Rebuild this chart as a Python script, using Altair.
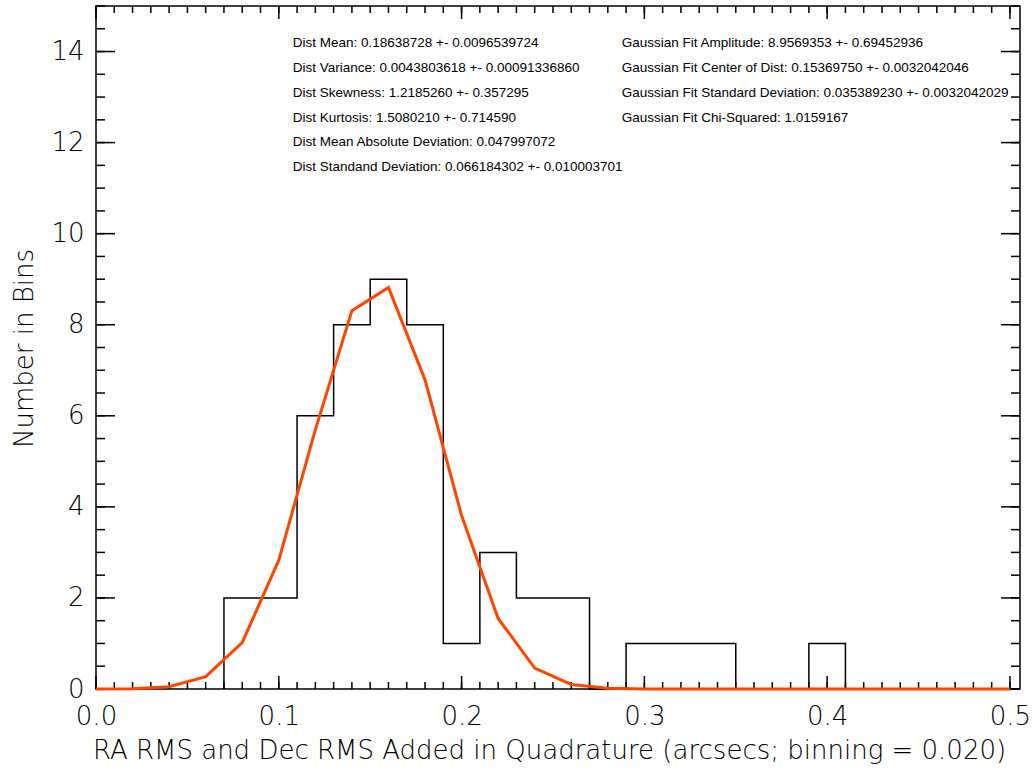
import altair as alt
import pandas as pd

# ---------------- data ----------------
bin_left = [0.07, 0.09, 0.11, 0.13, 0.15, 0.17, 0.19, 0.21, 0.23, 0.25,
            0.27, 0.29, 0.31, 0.33, 0.35, 0.37, 0.39]
bin_count = [2, 2, 6, 8, 9, 8, 1, 3, 2, 2, 0, 1, 1, 1, 0, 0, 1]
bin_width = 0.02

fit_x = [0.00, 0.02, 0.04, 0.06, 0.08, 0.10, 0.12, 0.14, 0.16, 0.18, 0.20,
         0.22, 0.24, 0.26, 0.28, 0.30, 0.32, 0.34, 0.36, 0.38, 0.40, 0.42,
         0.44, 0.46, 0.48, 0.50]
fit_y = [0.001, 0.007, 0.05, 0.27, 1.02, 2.83, 5.69, 8.31, 8.82, 6.79, 3.81,
         1.55, 0.46, 0.10, 0.015, 0.002, 0.0, 0.0, 0.0, 0.0, 0.0, 0.0,
         0.0, 0.0, 0.0, 0.0]

x_major = [0.0, 0.1, 0.2, 0.3, 0.4, 0.5]
x_minor = [round(i * 0.01, 2) for i in range(0, 51)]
y_major = [0, 2, 4, 6, 8, 10, 12, 14]
y_minor = [i * 0.5 for i in range(0, 31)]

left_lines = [
    "Dist Mean: 0.18638728 +- 0.0096539724",
    "Dist Variance: 0.0043803618 +- 0.00091336860",
    "Dist Skewness: 1.2185260 +- 0.357295",
    "Dist Kurtosis: 1.5080210 +- 0.714590",
    "Dist Mean Absolute Deviation: 0.047997072",
    "Dist Standand Deviation: 0.066184302 +- 0.010003701",
]
right_lines = [
    "Gaussian Fit Amplitude: 8.9569353 +- 0.69452936",
    "Gaussian Fit Center of Dist: 0.15369750 +- 0.0032042046",
    "Gaussian Fit Standard Deviation: 0.035389230 +- 0.0032042029",
    "Gaussian Fit Chi-Squared: 1.0159167",
]

x_title = "RA RMS and Dec RMS Added in Quadrature (arcsecs; binning = 0.020)"
y_title = "Number in Bins"

# ---------------- layout ----------------
W, H = 924, 683
XDOM = [0.0, 0.5055]
YDOM = [0.0, 15.0]
FONT = "DejaVu Sans"
TFONT = "Liberation Sans"

# histogram outline vertices
hv = [(bin_left[0], 0)]
for l, c in zip(bin_left, bin_count):
    hv.append((l, c))
    hv.append((round(l + bin_width, 3), c))
hv.append((round(bin_left[-1] + bin_width, 3), 0))
hist_df = pd.DataFrame({"x": [p[0] for p in hv], "y": [p[1] for p in hv],
                        "o": list(range(len(hv)))})

fit_df = pd.DataFrame({"x": fit_x, "y": fit_y})

xs = alt.Scale(domain=XDOM, nice=False, zero=False)
ys = alt.Scale(domain=YDOM, nice=False, zero=False)

base_x_axis = alt.Axis(values=x_major, format=".1f", tickSize=0, domain=False,
                       grid=False, labelFont=FONT, labelFontSize=26,
                       labelFontWeight=200, labelFlush=False,
                       labelOverlap=False,
                       labelColor="black", labelPadding=14,
                       title=x_title, titleFont=FONT, titleFontSize=26,
                       titleFontWeight=200, titleColor="black",
                       titleBaseline="alphabetic", titleY=69, titleX=453)
base_y_axis = alt.Axis(values=y_major, format="d", tickSize=0, domain=False,
                       grid=False, labelFont=FONT, labelFontSize=26,
                       labelFontWeight=200, labelFlush=False,
                       labelOverlap=False,
                       labelColor="black", labelPadding=12,
                       title=y_title, titleFont=FONT, titleFontSize=26,
                       titleFontWeight=200, titleColor="black",
                       titleBaseline="alphabetic", titleX=-64, titleY=342)

hist = alt.Chart(hist_df).mark_line(color="black", strokeWidth=1.5).encode(
    x=alt.X("x:Q", scale=xs, axis=base_x_axis),
    y=alt.Y("y:Q", scale=ys, axis=base_y_axis),
    order="o:Q",
)

fit = alt.Chart(fit_df).mark_line(color="#ff4500", strokeWidth=3).encode(
    x=alt.X("x:Q", scale=xs),
    y=alt.Y("y:Q", scale=ys),
)

def xticks(vals, length, top):
    df = pd.DataFrame({"v": vals})
    if top:
        y1, y2 = alt.value(0), alt.value(length)
    else:
        y1, y2 = alt.value(H), alt.value(H - length)
    return alt.Chart(df).mark_rule(color="black", strokeWidth=1.5).encode(
        x=alt.X("v:Q", scale=xs), y=y1, y2=y2)

def yticks(vals, length, right):
    df = pd.DataFrame({"v": vals})
    if right:
        x1, x2 = alt.value(W), alt.value(W - length)
    else:
        x1, x2 = alt.value(0), alt.value(length)
    return alt.Chart(df).mark_rule(color="black", strokeWidth=1.5).encode(
        y=alt.Y("v:Q", scale=ys), x=x1, x2=x2)

ticks = [
    xticks(x_minor, 7, False), xticks(x_major, 13, False),
    xticks(x_minor, 7, True), xticks(x_major, 13, True),
    yticks(y_minor, 9, False), yticks(y_major, 19, False),
    yticks(y_minor, 9, True), yticks(y_major, 19, True),
]

# annotation text
TX_L, TX_R = 0.1076, 0.2876
TY0, TDY = 14.18, 0.543
txt_rows = []
for i, s in enumerate(left_lines):
    txt_rows.append({"t": s, "x": TX_L, "y": TY0 - i * TDY})
for i, s in enumerate(right_lines):
    txt_rows.append({"t": s, "x": TX_R, "y": TY0 - i * TDY})
txt_df = pd.DataFrame(txt_rows)
texts = alt.Chart(txt_df).mark_text(align="left", baseline="middle",
                                    font=TFONT, fontSize=13.5,
                                    color="black").encode(
    x=alt.X("x:Q", scale=xs), y=alt.Y("y:Q", scale=ys), text="t:N")

chart = alt.layer(hist, *ticks, fit, texts).properties(
    width=W, height=H,
    autosize=alt.AutoSizeParams(type="none"),
    padding={"left": 96, "top": 6, "right": 14, "bottom": 81},
    background="white",
).configure_view(stroke="black", strokeWidth=1.5)

chart.save("out.html", embed_options={"renderer": "svg", "actions": False})
